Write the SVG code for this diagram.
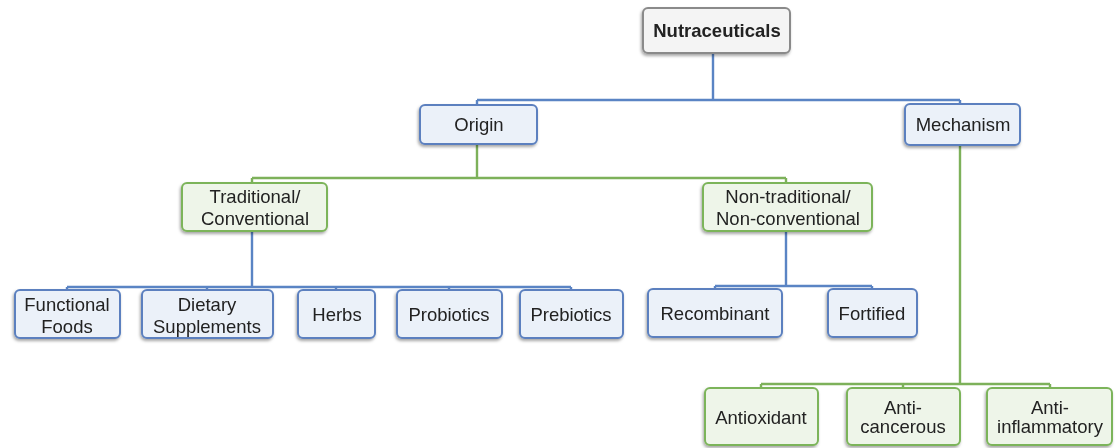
<svg xmlns="http://www.w3.org/2000/svg" width="1116" height="448" viewBox="0 0 1116 448">
<style>
text{font-family:"Liberation Sans",Arial,sans-serif;font-size:18.5px;fill:#222;text-anchor:middle}
.t{font-weight:bold;font-size:18.5px}
.b{fill:#ebf1f9;stroke:#5b80bf;stroke-width:2}
.g{fill:#eef5e9;stroke:#7cb45a;stroke-width:2}
.k{fill:#f4f4f4;stroke:#8a8a8a;stroke-width:2}
.cb{stroke:#5a84c4;stroke-width:2.4;fill:none}
.cg{stroke:#7db15a;stroke-width:2.4;fill:none}
</style>
<defs>
<filter id="sh" x="-10%" y="-20%" width="125%" height="150%">
<feDropShadow dx="-1" dy="2" stdDeviation="1.5" flood-color="#000" flood-opacity="0.35"/>
</filter>
</defs>
<rect width="1116" height="448" fill="#fff"/>
<g id="connectors">
<path class="cb" d="M713,53 V100 M477,100 H960 M477,100 V105 M960,100 V104"/>
<path class="cg" d="M477,144 V178 M252,178 H786 M252,178 V183 M786,178 V183"/>
<path class="cb" d="M252,231 V287 M67,287 H571 M67,287 V290 M207,287 V290 M336,287 V290 M449,287 V290 M571,287 V290"/>
<path class="cb" d="M786,231 V286 M715,286 H872 M715,286 V289 M872,286 V289"/>
<path class="cg" d="M960,145 V384 M761,384 H1050 M761,384 V388 M903,384 V388 M1050,384 V388"/>
</g>
<g id="nutraceuticals" filter="url(#sh)"><rect class="k" x="643" y="8" width="147" height="45" rx="5"/><text class="t" x="717" y="37">Nutraceuticals</text></g>
<g id="origin" filter="url(#sh)"><rect class="b" x="420" y="105" width="117" height="39" rx="5"/><text x="479" y="131">Origin</text></g>
<g id="mechanism" filter="url(#sh)"><rect class="b" x="905" y="104" width="115" height="41" rx="5"/><text x="963" y="131">Mechanism</text></g>
<g id="traditional" filter="url(#sh)"><rect class="g" x="182" y="183" width="145" height="48" rx="5"/><text x="255" y="203">Traditional/</text><text x="255" y="225">Conventional</text></g>
<g id="nontraditional" filter="url(#sh)"><rect class="g" x="703" y="183" width="169" height="48" rx="5"/><text x="788" y="203">Non-traditional/</text><text x="788" y="225">Non-conventional</text></g>
<g id="functional" filter="url(#sh)"><rect class="b" x="15" y="290" width="105" height="48" rx="5"/><text x="67" y="311">Functional</text><text x="67" y="333">Foods</text></g>
<g id="dietary" filter="url(#sh)"><rect class="b" x="142" y="290" width="131" height="48" rx="5"/><text x="207" y="311">Dietary</text><text x="207" y="333">Supplements</text></g>
<g id="herbs" filter="url(#sh)"><rect class="b" x="298" y="290" width="77" height="48" rx="5"/><text x="337" y="321">Herbs</text></g>
<g id="probiotics" filter="url(#sh)"><rect class="b" x="397" y="290" width="105" height="48" rx="5"/><text x="449" y="321">Probiotics</text></g>
<g id="prebiotics" filter="url(#sh)"><rect class="b" x="520" y="290" width="103" height="48" rx="5"/><text x="571" y="321">Prebiotics</text></g>
<g id="recombinant" filter="url(#sh)"><rect class="b" x="648" y="289" width="134" height="48" rx="5"/><text x="715" y="320">Recombinant</text></g>
<g id="fortified" filter="url(#sh)"><rect class="b" x="828" y="289" width="89" height="48" rx="5"/><text x="872" y="320">Fortified</text></g>
<g id="antioxidant" filter="url(#sh)"><rect class="g" x="705" y="388" width="113" height="57" rx="5"/><text x="761" y="424">Antioxidant</text></g>
<g id="anticancerous" filter="url(#sh)"><rect class="g" x="847" y="388" width="113" height="57" rx="5"/><text x="903" y="414">Anti-</text><text x="903" y="433">cancerous</text></g>
<g id="antiinflammatory" filter="url(#sh)"><rect class="g" x="987" y="388" width="125" height="57" rx="5"/><text x="1050" y="414">Anti-</text><text x="1050" y="433">inflammatory</text></g>
</svg>
